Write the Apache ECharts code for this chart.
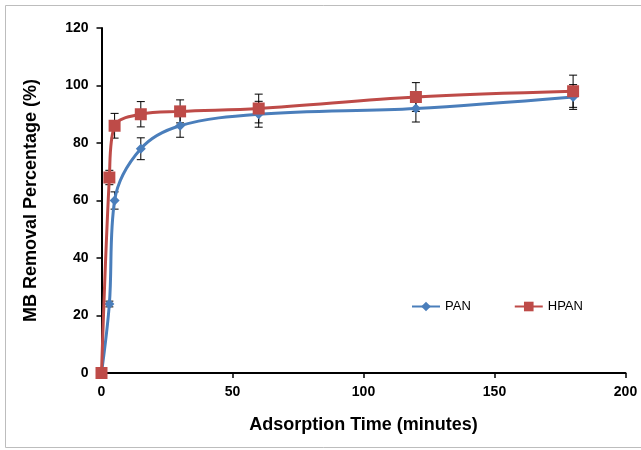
<!DOCTYPE html>
<html>
<head>
<meta charset="utf-8">
<script src="https://cdn.jsdelivr.net/npm/echarts@6/dist/echarts.min.js"></script>
<style>
html,body{margin:0;padding:0;background:#fff;}
#c{width:641px;height:450px;}
</style>
</head>
<body>
<div id="c"></div>
<script>
const times = [0, 3, 5, 15, 30, 60, 120, 180];
const panValues = [0, 24, 60, 78, 86, 90, 92, 96];
const hpanValues = [0, 68, 86, 90, 91, 92, 96, 98];
const panErr = [0, 1, 3, 3.8, 4, 4.5, 4.7, 4.3];
const hpanErr = [0, 2.5, 4.3, 4.4, 4, 5, 5, 5.6];
const seriesNames = ['PAN', 'HPAN'];
const xTicks = {min: 0, max: 200, interval: 50};
const yTicks = {min: 0, max: 120, interval: 20};

const FONT = 'Liberation Sans';
const chart = echarts.init(document.getElementById('c'), null, {renderer: 'canvas'});

function pairs(vals) { return times.map((t, i) => [t, vals[i]]); }
function errData(vals, errs) { return times.map((t, i) => [t, vals[i] - errs[i], vals[i] + errs[i]]); }

function errRender(params, api) {
  const x = api.value(0);
  const lo = api.coord([x, api.value(1)]);
  const hi = api.coord([x, api.value(2)]);
  if (Math.abs(lo[1] - hi[1]) < 0.5) return null;
  const w = 4;
  const st = {stroke: '#000', lineWidth: 1};
  return {
    type: 'group',
    children: [
      {type: 'line', shape: {x1: hi[0], y1: hi[1], x2: lo[0], y2: lo[1]}, style: st},
      {type: 'line', shape: {x1: hi[0] - w, y1: hi[1], x2: hi[0] + w, y2: hi[1]}, style: st},
      {type: 'line', shape: {x1: lo[0] - w, y1: lo[1], x2: lo[0] + w, y2: lo[1]}, style: st}
    ]
  };
}

const axisLabelStyle = {color: '#000', fontFamily: FONT, fontWeight: 'bold', fontSize: 14};

chart.setOption({
  animation: false,
  backgroundColor: '#fff',
  graphic: [{
    type: 'rect', shape: {x: 5.5, y: 5.5, width: 640, height: 442},
    style: {fill: 'none', stroke: '#bdbdbd', lineWidth: 1}, silent: true
  }],
  grid: {left: 101.5, right: 15.5, top: 28, bottom: 77},
  legend: {
    left: 406, top: 295,
    itemWidth: 28, itemHeight: 12, itemGap: 43,
    textStyle: {color: '#000', fontFamily: FONT, fontSize: 13},
    data: seriesNames
  },
  xAxis: {
    type: 'value', min: xTicks.min, max: xTicks.max, interval: xTicks.interval,
    name: 'Adsorption Time (minutes)', nameLocation: 'middle', nameGap: 43,
    nameTextStyle: {color: '#000', fontFamily: FONT, fontWeight: 'bold', fontSize: 18},
    axisLine: {lineStyle: {color: '#000', width: 2}},
    axisTick: {inside: false, length: 5, lineStyle: {color: '#000', width: 1.5}},
    axisLabel: Object.assign({margin: 12}, axisLabelStyle),
    splitLine: {show: false}
  },
  yAxis: {
    type: 'value', min: yTicks.min, max: yTicks.max, interval: yTicks.interval,
    name: 'MB Removal Percentage (%)', nameLocation: 'middle', nameGap: 61,
    nameTextStyle: {color: '#000', fontFamily: FONT, fontWeight: 'bold', fontSize: 18},
    axisLine: {show: true, lineStyle: {color: '#000', width: 2}},
    axisTick: {show: true, inside: false, length: 5, lineStyle: {color: '#000', width: 1.5}},
    axisLabel: Object.assign({margin: 13}, axisLabelStyle),
    splitLine: {show: false}
  },
  series: [
    {
      name: 'PAN-err', type: 'custom', renderItem: errRender,
      data: errData(panValues, panErr), z: 1, encode: {x: 0, y: [1, 2]}
    },
    {
      name: 'HPAN-err', type: 'custom', renderItem: errRender,
      data: errData(hpanValues, hpanErr), z: 1, encode: {x: 0, y: [1, 2]}
    },
    {
      name: seriesNames[0], type: 'line', data: pairs(panValues),
      smooth: 0.35,
      symbol: 'diamond', symbolSize: 10,
      lineStyle: {color: '#4a7ebb', width: 3},
      itemStyle: {color: '#4a7ebb'}, z: 3
    },
    {
      name: seriesNames[1], type: 'line', data: pairs(hpanValues),
      smooth: 0.35,
      symbol: 'rect', symbolSize: 12,
      lineStyle: {color: '#be4b48', width: 3},
      itemStyle: {color: '#be4b48'}, z: 4
    }
  ]
});
</script>
</body>
</html>
